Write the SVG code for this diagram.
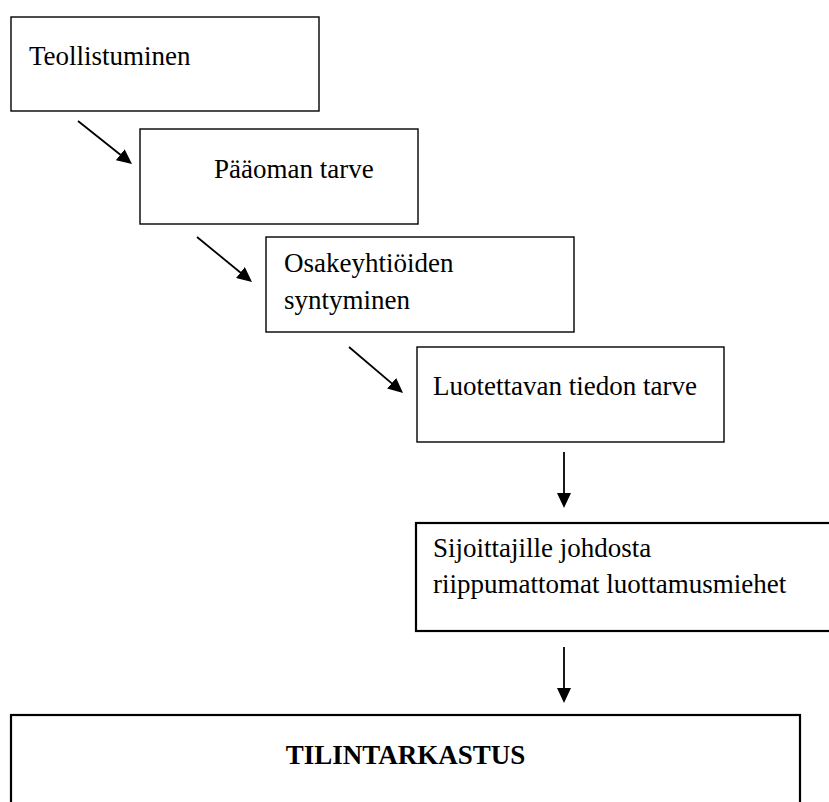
<svg xmlns="http://www.w3.org/2000/svg" width="829" height="802" viewBox="0 0 829 802">
<style>
.box{fill:#fff;stroke:#000;stroke-width:1.4}
.thick{stroke-width:2.2}
.t{font-family:"Liberation Serif","Times New Roman",serif;font-size:27px;fill:#000}
.b{font-weight:bold}
.c{fill:none;stroke:#000;stroke-width:1.8}
</style>
<defs>
<marker id="ah" markerUnits="userSpaceOnUse" markerWidth="15" markerHeight="14" refX="11" refY="7" orient="auto" viewBox="0 0 15 14">
<path d="M0,0 L15,7 L0,14 z" fill="#000"/>
</marker>
</defs>
<rect width="829" height="802" fill="#fff"/>
<g id="n1"><rect class="box" x="11" y="17" width="308" height="94"/><text class="t" x="29" y="65">Teollistuminen</text></g>
<g id="n2"><rect class="box" x="140" y="129" width="278" height="95"/><text class="t" x="214" y="178">Pääoman tarve</text></g>
<g id="n3"><rect class="box" x="266" y="237" width="308" height="95"/><text class="t" x="284" y="272">Osakeyhtiöiden</text><text class="t" x="284" y="309">syntyminen</text></g>
<g id="n4"><rect class="box" x="417" y="347" width="307" height="95"/><text class="t" x="433" y="395">Luotettavan tiedon tarve</text></g>
<g id="n5"><rect class="box thick" x="416" y="523" width="440" height="108"/><text class="t" x="433" y="557">Sijoittajille johdosta</text><text class="t" x="433" y="593">riippumattomat luottamusmiehet</text></g>
<g id="n6"><rect class="box thick" x="11" y="715" width="789" height="120"/><text class="t b" x="405.5" y="764" text-anchor="middle">TILINTARKASTUS</text></g>
<g id="connectors">
<line class="c" x1="78" y1="121" x2="128.9" y2="161.5" marker-end="url(#ah)"/>
<line class="c" x1="197" y1="237" x2="248.9" y2="279.5" marker-end="url(#ah)"/>
<line class="c" x1="349" y1="347" x2="400" y2="390.4" marker-end="url(#ah)"/>
<line class="c" x1="564" y1="452" x2="564" y2="504" marker-end="url(#ah)"/>
<line class="c" x1="564" y1="647" x2="564" y2="699" marker-end="url(#ah)"/>
</g>
</svg>
